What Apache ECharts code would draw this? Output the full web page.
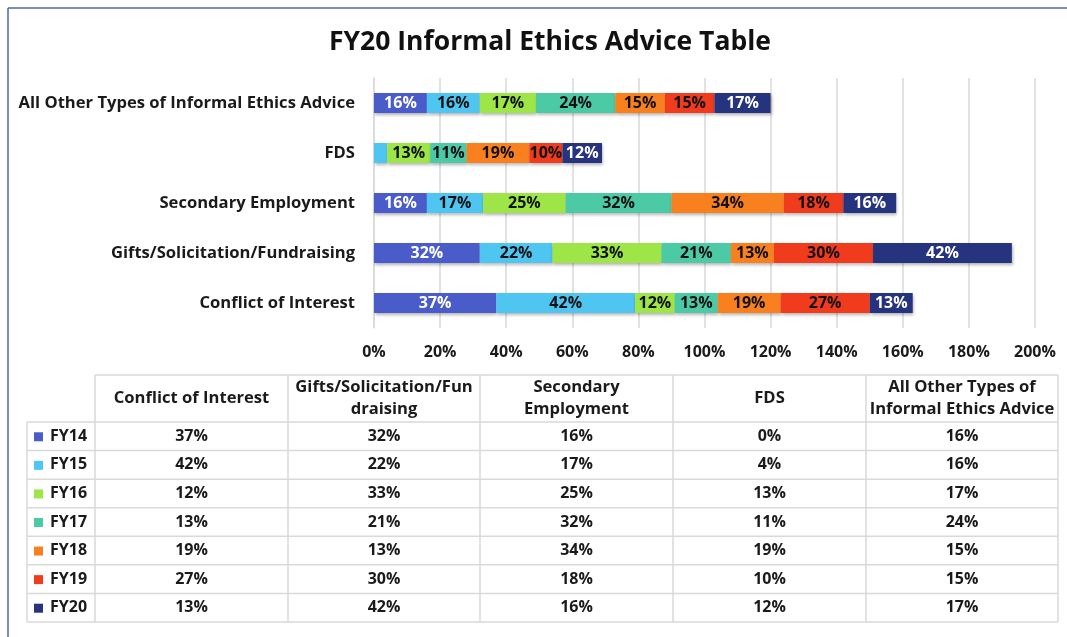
<!DOCTYPE html>
<html><head><meta charset="utf-8">
<script src="https://cdn.jsdelivr.net/npm/echarts@6/dist/echarts.min.js"></script>
<style>html,body{margin:0;padding:0;background:#fff}#c{width:1067px;height:637px}</style>
</head><body><div id="c"></div>
<script>
var categories = ['Conflict of Interest','Gifts/Solicitation/Fundraising','Secondary Employment','FDS','All Other Types of Informal Ethics Advice'];
var tableHeaders = ['Conflict of Interest','Gifts/Solicitation/Fun\ndraising','Secondary\nEmployment','FDS','All Other Types of\nInformal Ethics Advice'];
var seriesNames = ['FY14','FY15','FY16','FY17','FY18','FY19','FY20'];
var FY14 = [37,32,16,0,16];
var FY15 = [42,22,17,4,16];
var FY16 = [12,33,25,13,17];
var FY17 = [13,21,32,11,24];
var FY18 = [19,13,34,19,15];
var FY19 = [27,30,18,10,15];
var FY20 = [13,42,16,12,17];
var tickLabels = ['0%','20%','40%','60%','80%','100%','120%','140%','160%','180%','200%'];

var values = [FY14,FY15,FY16,FY17,FY18,FY19,FY20];
var colors = ['#4a5cc9','#4fc6f2','#9ee648','#4ccaa6','#f8801f','#f03b1d','#26337e'];
var labelColors = ['#fff','#111','#111','#111','#111','#111','#fff'];
var FONT = 'Open Sans';
var FS = 16;
var FSL = 16.6;

var series = seriesNames.map(function(n,i){
  return {
    name:n, type:'bar', stack:'all', barWidth:20,
    data: values[i],
    itemStyle:{color:colors[i], shadowBlur:3, shadowOffsetX:1, shadowOffsetY:2, shadowColor:'rgba(0,0,0,0.3)'},
    label:{show:true, position:'inside', color:labelColors[i], fontFamily:FONT, fontWeight:'bold', fontSize:FS,
      formatter:function(p){return p.value<5?'':p.value+'%';}}
  };
});

// table graphics
var g = [];
var lineC = '#d9d9d9';
var colX = [27,95,288,480,673,866,1058];
var headTop = 375, headBot = 422, rowH = 28.57, nRows = 7;
var tableBot = headBot + rowH*nRows;
function line(x1,y1,x2,y2){g.push({type:'line',shape:{x1:x1,y1:y1,x2:x2,y2:y2},style:{stroke:lineC,lineWidth:1.5},silent:true});}
function text(x,y,t,align,fs){g.push({type:'text',x:x,y:y,style:{text:t,font:'bold '+(fs||FS)+'px '+FONT,fill:'#1a1a1a',align:align||'center',verticalAlign:'middle',lineHeight:22},silent:true});}
// frame
g.push({type:'line',shape:{x1:8,y1:8,x2:1067,y2:8},style:{stroke:'#5163b3',lineWidth:1.5},silent:true});
g.push({type:'line',shape:{x1:8,y1:8,x2:8,y2:637},style:{stroke:'#5163b3',lineWidth:1.5},silent:true});
// horizontal lines
line(colX[1],headTop,colX[6],headTop);
for(var r=0;r<=nRows;r++){ var y=headBot+rowH*r; line(colX[0],y,colX[6],y); }
// vertical lines
line(colX[0],headBot,colX[0],tableBot);
for(var c=1;c<colX.length;c++){ line(colX[c],headTop,colX[c],tableBot); }
// headers
for(var c=0;c<tableHeaders.length;c++){ text((colX[c+1]+colX[c+2])/2,(headTop+headBot)/2,tableHeaders[c],'center',FSL); }
// rows
for(var r=0;r<nRows;r++){
  var cy = headBot+rowH*(r+0.5);
  g.push({type:'rect',shape:{x:34,y:cy-4,width:9,height:9},style:{fill:colors[r]},silent:true});
  text(50,cy,seriesNames[r],'left');
  for(var c=0;c<categories.length;c++){
    text((colX[c+1]+colX[c+2])/2,cy,values[r][c]+'%');
  }
}

var chart = echarts.init(document.getElementById('c'));
chart.setOption({
  animation:false,
  title:{text:'FY20 Informal Ethics Advice Table',left:545,top:24,textAlign:'center',
    textStyle:{fontFamily:FONT,fontWeight:'bold',fontSize:26.5,color:'#111'}},
  grid:{left:374,right:32,top:78,height:250},
  xAxis:{type:'value',min:0,max:200,interval:20,
    axisLabel:{formatter:function(v){return tickLabels[v/20];},fontFamily:FONT,fontWeight:'bold',fontSize:FS,color:'#1a1a1a',margin:16},
    splitLine:{lineStyle:{color:'#d9d9d9',width:1.5}},axisLine:{show:false},axisTick:{show:false}},
  yAxis:{type:'category',data:categories,
    axisLabel:{fontFamily:FONT,fontWeight:'bold',fontSize:FSL,color:'#1a1a1a',margin:19},
    axisLine:{show:true,lineStyle:{color:'#d9d9d9',width:1.5}},axisTick:{show:false}},
  series:series,
  graphic:g
});
</script></body></html>
